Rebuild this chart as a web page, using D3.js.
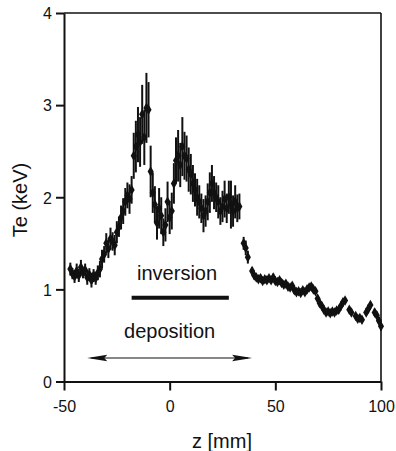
<!DOCTYPE html>
<html>
<head>
<meta charset="utf-8">
<script src="https://cdn.jsdelivr.net/npm/d3@7"></script>
<style>
	html, body { margin: 0; padding: 0; background: #fff; }
	svg { display: block; font-family: "Liberation Sans", Arial, sans-serif; }
</style>
</head>
<body>
<svg id="chart" width="396" height="451"></svg>
<script>
// measured positions along the beam axis (mm)
const zPos = [
	-47, -46, -45, -44, -43, -42, -41, -40, -39, -38, -37, -36, -35, -34, -33,
	-32, -31, -30, -29, -28, -27, -26, -25, -24, -23, -22, -21, -20, -19, -18,
	-17, -16, -15, -14, -13, -12, -11, -10, -9, -8, -7, -6, -5, -4, -3, -2, -1,
	0, 1, 2, 3, 4, 5, 6, 7, 8, 9, 10, 11, 12, 13, 14, 15, 16, 17, 18, 19, 20,
	21, 22, 23, 24, 25, 26, 27, 28, 29, 30, 31, 32, 33,
	35, 36, 37,
	39, 40, 41, 42, 43, 44, 45, 46, 47, 48, 49, 50, 51, 52, 53, 54, 55, 56, 57,
	58, 59, 60, 61, 62, 63, 64, 65, 66, 67, 68, 69, 70, 71, 72, 73, 74, 75, 76,
	77, 78, 79, 80, 81, 82, 83,
	85, 86,
	88, 89, 90, 91,
	93, 94, 95,
	97, 98, 99, 100
];
// electron temperature (keV)
const teVals = [
	1.22, 1.17, 1.14, 1.20, 1.15, 1.24, 1.18, 1.21, 1.13, 1.16, 1.10, 1.15, 1.12, 1.18, 1.22,
	1.33, 1.38, 1.50, 1.44, 1.55, 1.52, 1.48, 1.62, 1.68, 1.78, 1.85, 1.95, 2.02, 1.98, 2.08,
	2.45, 2.55, 2.68, 2.60, 2.90, 2.65, 2.97, 2.95, 2.28, 2.05, 1.92, 1.72, 1.88, 1.80, 1.62, 1.70, 1.95,
	1.78, 1.85, 2.15, 2.40, 2.45, 2.35, 2.55, 2.45, 2.42, 2.30, 2.25, 2.15, 2.08, 2.00, 1.95, 1.88, 1.80, 1.85, 1.95, 2.05, 2.15,
	2.05, 2.00, 1.95, 1.85, 1.90, 1.98, 1.88, 2.00, 1.92, 1.85, 1.95, 1.88, 1.90,
	1.50, 1.45, 1.35,
	1.20, 1.15, 1.13, 1.11, 1.12, 1.09, 1.11, 1.10, 1.12, 1.10, 1.13, 1.09, 1.08, 1.10, 1.07, 1.05, 1.06, 1.03, 1.02,
	1.04, 0.99, 0.97, 0.98, 0.96, 0.99, 0.97, 1.00, 1.02, 1.03, 1.00, 0.98, 0.90, 0.85, 0.82, 0.78, 0.75, 0.76, 0.74,
	0.76, 0.75, 0.77, 0.78, 0.82, 0.86, 0.88,
	0.78, 0.75,
	0.71, 0.68, 0.69, 0.67,
	0.75, 0.79, 0.83,
	0.75, 0.72, 0.66, 0.60
];
// error bar half-heights (keV)
const teErr = [
	0.07, 0.06, 0.07, 0.08, 0.07, 0.08, 0.06, 0.07, 0.08, 0.07, 0.08, 0.07, 0.07, 0.08, 0.09,
	0.10, 0.09, 0.11, 0.10, 0.12, 0.10, 0.11, 0.12, 0.11, 0.13, 0.14, 0.15, 0.14, 0.16, 0.15,
	0.25, 0.28, 0.30, 0.27, 0.32, 0.30, 0.38, 0.30, 0.28, 0.22, 0.20, 0.18, 0.22, 0.20, 0.15, 0.18, 0.22,
	0.18, 0.20, 0.22, 0.25, 0.28, 0.24, 0.32, 0.26, 0.25, 0.24, 0.22, 0.20, 0.18, 0.20, 0.18, 0.16, 0.18, 0.17, 0.20, 0.22, 0.20,
	0.18, 0.16, 0.18, 0.15, 0.17, 0.20, 0.16, 0.18, 0.26, 0.17, 0.18, 0.15, 0.14,
	0.07, 0.08, 0.07,
	0.04, 0.04, 0.03, 0.03, 0.04, 0.03, 0.03, 0.04, 0.03, 0.03, 0.04, 0.03, 0.03, 0.03, 0.04, 0.03, 0.03, 0.03, 0.03,
	0.03, 0.04, 0.03, 0.03, 0.03, 0.03, 0.03, 0.04, 0.03, 0.04, 0.03, 0.03, 0.03, 0.04, 0.03, 0.03, 0.03, 0.03, 0.03,
	0.03, 0.03, 0.03, 0.03, 0.03, 0.04, 0.03,
	0.03, 0.03,
	0.03, 0.03, 0.03, 0.03,
	0.03, 0.04, 0.03,
	0.04, 0.03, 0.04, 0.05
];
const xTicks = [-50, 0, 50, 100];
const yTicks = [0, 1, 2, 3, 4];
// annotation ranges (mm)
const inversionRange = [-18, 28];
const depositionRange = [-39, 39];

const svg = d3.select('#chart');

const x = d3.scaleLinear().domain([-50, 100]).range([64, 381]);
const y = d3.scaleLinear().domain([0, 4]).range([381.5, 13]);

const data = zPos.map((z, i) => ({ z: z, te: teVals[i], err: teErr[i] }));

// 枠（上と右）
svg.append('line')
	.attr('x1', x(-50)).attr('x2', x(100))
	.attr('y1', y(4)).attr('y2', y(4))
	.attr('stroke', '#111').attr('stroke-width', 1.6);
svg.append('line')
	.attr('x1', x(100)).attr('x2', x(100))
	.attr('y1', y(4)).attr('y2', y(0))
	.attr('stroke', '#111').attr('stroke-width', 1.6);

// 軸
const xAxis = svg.append('g')
	.attr('transform', `translate(0,${y(0)})`)
	.call(d3.axisBottom(x).tickValues(xTicks).tickFormat(d => String(d))
		.tickSize(9).tickPadding(10).tickSizeOuter(0));
const yAxis = svg.append('g')
	.attr('transform', `translate(${x(-50)},0)`)
	.call(d3.axisLeft(y).tickValues(yTicks).tickFormat(d => String(d))
		.tickSize(8).tickPadding(4).tickSizeOuter(0));

[xAxis, yAxis].forEach(g => {
	g.select('.domain').attr('stroke', '#111').attr('stroke-width', 2);
	g.selectAll('.tick line').attr('stroke', '#111').attr('stroke-width', 2);
	g.selectAll('.tick text')
		.attr('fill', '#111')
		.style('font-size', '16px')
		.style('font-family', '"Liberation Sans", Arial, sans-serif');
});
yAxis.selectAll('.tick text').attr('dy', '0.36em');

// 軸ラベル
svg.append('text')
	.attr('x', 222).attr('y', 448)
	.attr('text-anchor', 'middle')
	.style('font-size', '20px')
	.attr('fill', '#111')
	.text('z [mm]');
svg.append('text')
	.attr('transform', 'translate(27,200) rotate(-90)')
	.attr('text-anchor', 'middle')
	.style('font-size', '20px')
	.attr('fill', '#111')
	.text('Te (keV)');

// エラーバー
svg.append('g').selectAll('line')
	.data(data)
	.enter().append('line')
	.attr('x1', d => x(d.z)).attr('x2', d => x(d.z))
	.attr('y1', d => y(d.te - d.err)).attr('y2', d => y(d.te + d.err))
	.attr('stroke', '#111').attr('stroke-width', 2);

// データ点
svg.append('g').selectAll('path')
	.data(data)
	.enter().append('path')
	.attr('transform', d => `translate(${x(d.z)},${y(d.te)})`)
	.attr('d', d3.symbol().type(d3.symbolDiamond).size(32))
	.attr('fill', '#111');

// inversion
svg.append('text')
	.attr('x', x(3.5)).attr('y', y(1.1))
	.attr('text-anchor', 'middle')
	.style('font-size', '20px')
	.attr('fill', '#111')
	.text('inversion');
svg.append('line')
	.attr('x1', x(inversionRange[0])).attr('x2', x(inversionRange[1]))
	.attr('y1', y(0.91)).attr('y2', y(0.91))
	.attr('stroke', '#111').attr('stroke-width', 4);

// deposition
svg.append('text')
	.attr('x', x(0)).attr('y', y(0.47))
	.attr('text-anchor', 'middle')
	.style('font-size', '20px')
	.attr('fill', '#111')
	.text('deposition');

const ay = y(0.255);
const ax0 = x(depositionRange[0]);
const ax1 = x(depositionRange[1]);
const headLen = 20, headW = 3.2;
svg.append('line')
	.attr('x1', ax0 + 4).attr('x2', ax1 - 4)
	.attr('y1', ay).attr('y2', ay)
	.attr('stroke', '#111').attr('stroke-width', 1.2);
svg.append('path')
	.attr('d', `M${ax0},${ay} L${ax0 + headLen},${ay - headW} L${ax0 + headLen - 3},${ay} L${ax0 + headLen},${ay + headW} Z`)
	.attr('fill', '#111');
svg.append('path')
	.attr('d', `M${ax1},${ay} L${ax1 - headLen},${ay - headW} L${ax1 - headLen + 3},${ay} L${ax1 - headLen},${ay + headW} Z`)
	.attr('fill', '#111');
</script>
</body>
</html>
